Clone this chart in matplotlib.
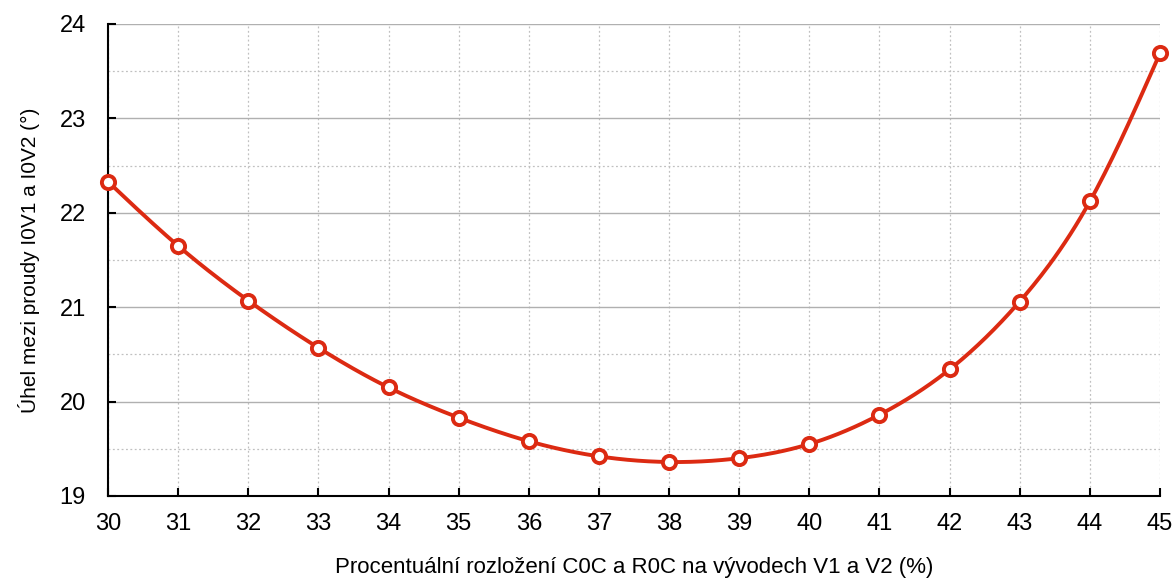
import numpy as np
import matplotlib.pyplot as plt

# data
x = [30, 31, 32, 33, 34, 35, 36, 37, 38, 39, 40, 41, 42, 43, 44, 45]
y = [22.33, 21.65, 21.07, 20.57, 20.15, 19.83, 19.58, 19.42, 19.36, 19.40,
     19.55, 19.86, 20.34, 21.06, 22.12, 23.69]
xticks = list(range(30, 46))
yticks = [19, 20, 21, 22, 23, 24]


def natural_spline(xs, ys, n=400):
    # natural cubic spline through the points, only for drawing the curve
    xs = np.asarray(xs, float)
    ys = np.asarray(ys, float)
    k = len(xs)
    h = np.diff(xs)
    A = np.zeros((k, k))
    b = np.zeros(k)
    A[0, 0] = A[-1, -1] = 1
    for i in range(1, k - 1):
        A[i, i - 1] = h[i - 1]
        A[i, i] = 2 * (h[i - 1] + h[i])
        A[i, i + 1] = h[i]
        b[i] = 3 * ((ys[i + 1] - ys[i]) / h[i] - (ys[i] - ys[i - 1]) / h[i - 1])
    c = np.linalg.solve(A, b)
    xx = np.linspace(xs[0], xs[-1], n)
    idx = np.clip(np.searchsorted(xs, xx) - 1, 0, k - 2)
    dx = xx - xs[idx]
    bb = (ys[1:] - ys[:-1]) / h - h * (2 * c[:-1] + c[1:]) / 3
    dd = (c[1:] - c[:-1]) / (3 * h)
    yy = ys[idx] + bb[idx] * dx + c[idx] * dx ** 2 + dd[idx] * dx ** 3
    return xx, yy


plt.rcParams['font.family'] = ['Liberation Sans', 'DejaVu Sans']

fig = plt.figure(figsize=(11.75, 5.78), dpi=100)
ax = fig.add_axes([0.0919, 0.1419, 0.8953, 0.8166])

red = '#dc2a12'
sx, sy = natural_spline(x, y)
ax.plot(sx, sy, color=red, lw=2.8, zorder=3)
ax.plot(x, y, 'o', ms=9.5, mfc='white', mec=red, mew=2.8, zorder=4,
        clip_on=False)

ax.set_xlim(30, 45)
ax.set_ylim(19, 24)
ax.set_xticks(xticks)
ax.set_yticks(yticks)
ax.set_yticks([19.5, 20.5, 21.5, 22.5, 23.5], minor=True)

ax.grid(axis='y', which='major', color='#b0b0b0', lw=1.0, ls='-')
ax.grid(axis='y', which='minor', color='#c0c0c0', lw=0.9, ls=(0, (1.5, 2)))
ax.grid(axis='x', which='major', color='#c0c0c0', lw=0.9, ls=(0, (1.5, 2)))
ax.set_axisbelow(True)

for s in ['top', 'right']:
    ax.spines[s].set_visible(False)
for s in ['left', 'bottom']:
    ax.spines[s].set_linewidth(1.5)

ax.tick_params(axis='both', which='major', direction='in', length=6, width=1.5,
               labelsize=17)
ax.tick_params(axis='x', pad=12)
ax.tick_params(axis='y', pad=16)
ax.tick_params(axis='y', which='minor', length=0)

ax.set_xlabel('Procentuální rozložení C0C a R0C na vývodech V1 a V2 (%)',
              fontsize=16, labelpad=16)
ax.set_ylabel('Úhel mezi proudy I0V1 a I0V2 (°)', fontsize=15, labelpad=14)

fig.savefig('out.png', dpi=100)
